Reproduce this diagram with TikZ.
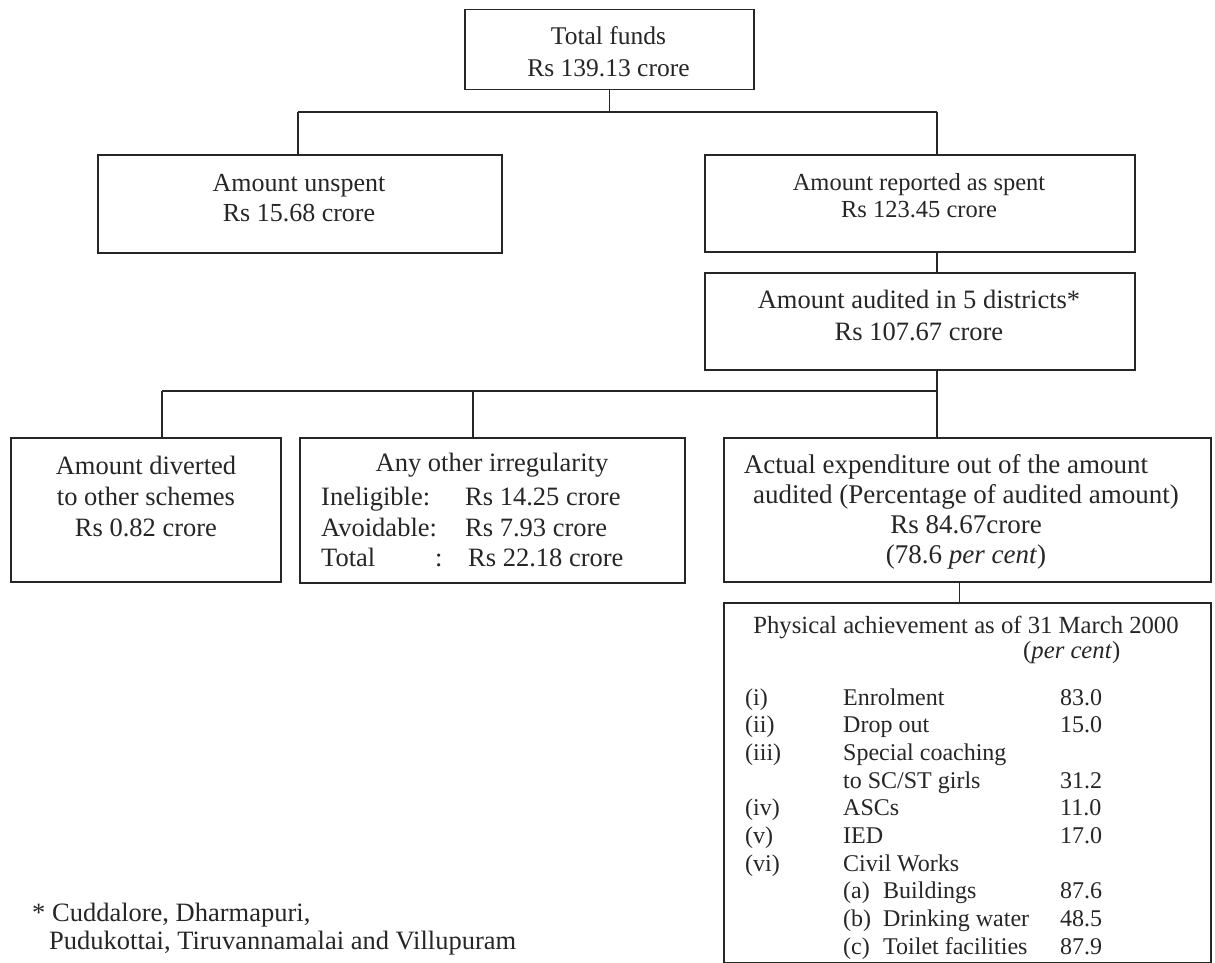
\documentclass[tikz,border=0pt]{standalone}
\usepackage{fontspec}
\setmainfont{Liberation Serif}
\usetikzlibrary{calc}
\definecolor{ink}{RGB}{38,38,38}
\begin{document}
\begin{tikzpicture}[x=1pt,y=-1pt,
  box/.style={draw=ink, line width=1.5pt, rectangle, inner sep=0pt, anchor=north west},
  conn/.style={draw=ink, line width=1.4pt},
  lbl/.style={inner sep=0pt, align=center, text=ink},
  tbl/.style={inner sep=0pt, anchor=west, text=ink}]
\fill[white] (0,0) rectangle (1215,963);
\useasboundingbox (0,0) rectangle (1215,963);

% boxes
\node[box, minimum width=289pt, minimum height=80pt]  (top)      at (464,9)   {};
\node[box, minimum width=404pt, minimum height=98pt]  (unspent)  at (97,154)  {};
\node[box, minimum width=430pt, minimum height=97pt]  (spent)    at (704,154) {};
\node[box, minimum width=430pt, minimum height=97pt]  (audited)  at (704,272) {};
\node[box, minimum width=270pt, minimum height=144pt] (diverted) at (10,437)  {};
\node[box, minimum width=385pt, minimum height=145pt] (irreg)    at (299,437) {};
\node[box, minimum width=487pt, minimum height=144pt] (actual)   at (723,437) {};
\node[box, minimum width=487pt, minimum height=360pt] (phys)     at (723,602) {};

% texts
\node[lbl, font=\fontsize{25.5}{32}\selectfont] (ttop) at (608.5,52)
  {Total funds\\Rs 139.13 crore};
\node[lbl, font=\fontsize{26}{30}\selectfont] (tunspent) at (299,198)
  {Amount unspent\\Rs 15.68 crore};
\node[lbl, font=\fontsize{24.5}{27}\selectfont] (tspent) at (919,195.5)
  {Amount reported as spent\\Rs 123.45 crore};
\node[lbl, font=\fontsize{26.5}{32}\selectfont] (taudited) at (919,315)
  {Amount audited in 5 districts*\\Rs 107.67 crore};
\node[lbl, font=\fontsize{26.5}{31}\selectfont] (tdiverted) at (146,496)
  {Amount diverted\\to other schemes\\Rs 0.82 crore};
\node[lbl, font=\fontsize{26.5}{31}\selectfont] (tirregtitle) at (492,465)
  {Any other irregularity};
\node[tbl, font=\fontsize{26.5}{30.5}\selectfont] (tirreg) at (321,530)
  {\begin{tabular}{@{}p{144pt}@{}l@{}}
   Ineligible: & Rs 14.25 crore\\
   Avoidable: & Rs 7.93 crore\\
   \makebox[114pt][l]{Total}: & \hspace*{3pt}Rs 22.18 crore
   \end{tabular}};
\node[lbl, font=\fontsize{27}{30}\selectfont] (tactual) at (966,512)
  {Actual expenditure out of the amount\hspace*{40pt}\\
   audited (Percentage of audited amount)\\
   Rs 84.67crore\\
   (78.6 \textit{per cent})};
\node[lbl, font=\fontsize{24.7}{27}\selectfont] (tphystitle) at (966,627)
  {Physical achievement as of 31 March 2000};
\node[tbl, font=\fontsize{24.7}{27}\selectfont] (tpercent) at (1023,653)
  {(\textit{per cent})};
\node[tbl, font=\fontsize{24}{27.67}\selectfont] (tphys) at (745,824)
  {\begin{tabular}{@{}p{98pt}@{}p{217pt}@{}l@{}}
   (i)   & Enrolment & 83.0\\
   (ii)  & Drop out & 15.0\\
   (iii) & Special coaching & \\
         & to SC/ST girls & 31.2\\
   (iv)  & ASCs & 11.0\\
   (v)   & IED & 17.0\\
   (vi)  & Civil Works & \\
         & \makebox[40pt][l]{(a)}Buildings & 87.6\\
         & \makebox[40pt][l]{(b)}Drinking water & 48.5\\
         & \makebox[40pt][l]{(c)}Toilet facilities & 87.9
   \end{tabular}};
\node[tbl, align=left, font=\fontsize{26.5}{28}\selectfont] (tfoot) at (32,929)
  {* Cuddalore, Dharmapuri,\\\hspace*{17pt}Pudukottai, Tiruvannamalai and Villupuram};

% connectors
\coordinate (b1L) at (298,112);
\coordinate (b1R) at (937,112);
\coordinate (b2L) at (162,391);
\coordinate (b2M) at (473,391);
\coordinate (b2R) at (937,391);
\draw[conn] (top.south) -- (top.south |- b1L);
\draw[conn] (b1L) -- (b1R);
\draw[conn] (b1L) -- (b1L |- unspent.north);
\draw[conn] (b1R) -- (b1R |- spent.north);
\draw[conn] (spent.south -| b1R) -- (audited.north -| b1R);
\draw[conn] (audited.south -| b2R) -- (b2R);
\draw[conn] (b2L) -- (b2R);
\draw[conn] (b2L) -- (b2L |- diverted.north);
\draw[conn] (b2M) -- (b2M |- irreg.north);
\draw[conn] (b2R) -- (b2R |- actual.north);
\draw[conn] ([xshift=-8pt]actual.south) -- ([xshift=-8pt]phys.north);
\end{tikzpicture}
\end{document}
